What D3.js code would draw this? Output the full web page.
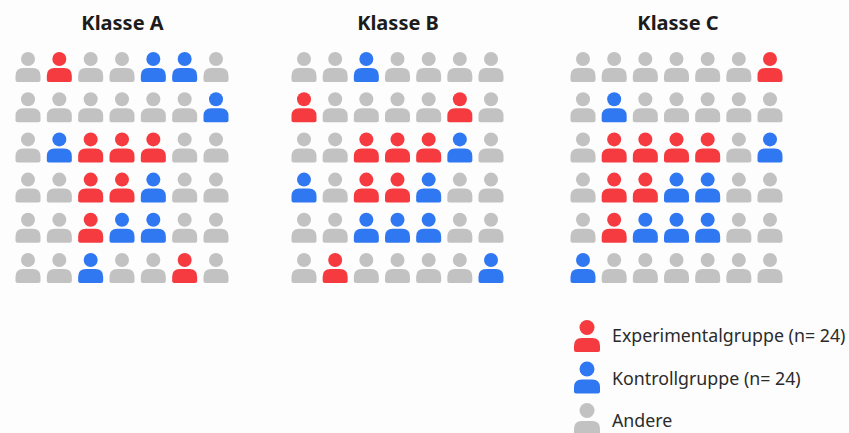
<!DOCTYPE html>
<html>
<head>
<meta charset="utf-8">
<script src="https://cdn.jsdelivr.net/npm/d3@7"></script>
<style>
  html, body { margin: 0; padding: 0; background: #fdfdfd; overflow: hidden; }
  svg { display: block; }
  text { font-family: "Noto Sans", sans-serif; }
</style>
</head>
<body>
<script>
const classNames = ["Klasse A", "Klasse B", "Klasse C"];

// e = Experimentalgruppe, k = Kontrollgruppe, a = Andere (one string per row)
const klasseA = ["aeaakka", "aaaaaak", "akeeeaa", "aaeekaa", "aaekkaa", "aakaaea"];
const klasseB = ["aakaaaa", "eaaaaea", "aaeeeka", "kaeekaa", "aakkkaa", "aeaaaak"];
const klasseC = ["aaaaaae", "akaaaaa", "aeeeeak", "aeekkaa", "aekkkaa", "kaaaaaa"];
const classRows = [klasseA, klasseB, klasseC];

const groupKeys = ["e", "k", "a"];
const groupLabels = ["Experimentalgruppe (n= 24)", "Kontrollgruppe (n= 24)", "Andere"];
const groupColors = ["#f53b3f", "#2f78f2", "#c2c2c2"];

const width = 849, height = 433;

const svg = d3.select("body").append("svg")
  .attr("width", width)
  .attr("height", height);

const color = d3.scaleOrdinal().domain(groupKeys).range(groupColors);

// first to last column centre of each panel
const panelX = d3.scaleOrdinal().domain(classNames).range([[28, 216], [304, 491], [583, 770]]);
const rowY = d3.scalePoint().domain(d3.range(6)).range([82, 283]);

/** person icon, origin = bottom centre of the body */
function drawPerson(g, w, h, headR, gap) {
  const r = h * 0.55;
  const p = d3.path();
  p.moveTo(-w / 2 + 2, 0);
  p.quadraticCurveTo(-w / 2, 0, -w / 2, -2);
  p.lineTo(-w / 2, -h + r);
  p.quadraticCurveTo(-w / 2, -h, -w / 2 + r, -h);
  p.lineTo(w / 2 - r, -h);
  p.quadraticCurveTo(w / 2, -h, w / 2, -h + r);
  p.lineTo(w / 2, -2);
  p.quadraticCurveTo(w / 2, 0, w / 2 - 2, 0);
  p.closePath();
  g.append("path").attr("d", p.toString());
  g.append("circle").attr("cy", -h - gap - headR).attr("r", headR);
}

classNames.forEach((name, i) => {
  const colX = d3.scalePoint().domain(d3.range(7)).range(panelX(name));
  const panel = svg.append("g").attr("class", "panel");

  panel.append("text")
    .attr("x", d3.mean(colX.range()) + (i === 2 ? 1.5 : 0.5))
    .attr("y", 30)
    .attr("text-anchor", "middle")
    .attr("font-size", 20)
    .attr("font-weight", 700)
    .attr("fill", "#1c1c1c")
    .text(name);

  const cells = classRows[i].flatMap((row, r) => row.split("").map((k, c) => ({ r, c, k })));

  panel.selectAll("g.person")
    .data(cells)
    .enter()
    .append("g")
    .attr("class", "person")
    .attr("transform", d => "translate(" + colX(d.c) + "," + rowY(d.r) + ")")
    .attr("fill", d => color(d.k))
    .each(function() { drawPerson(d3.select(this), 25, 14, 7, 2); });
});

/** Legend */
const legendY = d3.scalePoint().domain(groupKeys).range([352, 435]);
const legendTextY = d3.scalePoint().domain(groupKeys).range([342, 427]);

const legend = svg.append("g").attr("id", "legend");

legend.selectAll("g")
  .data(groupKeys)
  .enter()
  .append("g")
  .attr("transform", d => "translate(587," + legendY(d) + ")")
  .attr("fill", d => color(d))
  .each(function() { drawPerson(d3.select(this), 26, 14, 7.5, 3); });

legend.selectAll("text")
  .data(groupKeys)
  .enter()
  .append("text")
  .attr("x", 612)
  .attr("y", d => legendTextY(d))
  .attr("font-size", 17.8)
  .attr("fill", "#2b2b2b")
  .text((d, i) => groupLabels[i]);
</script>
</body>
</html>
